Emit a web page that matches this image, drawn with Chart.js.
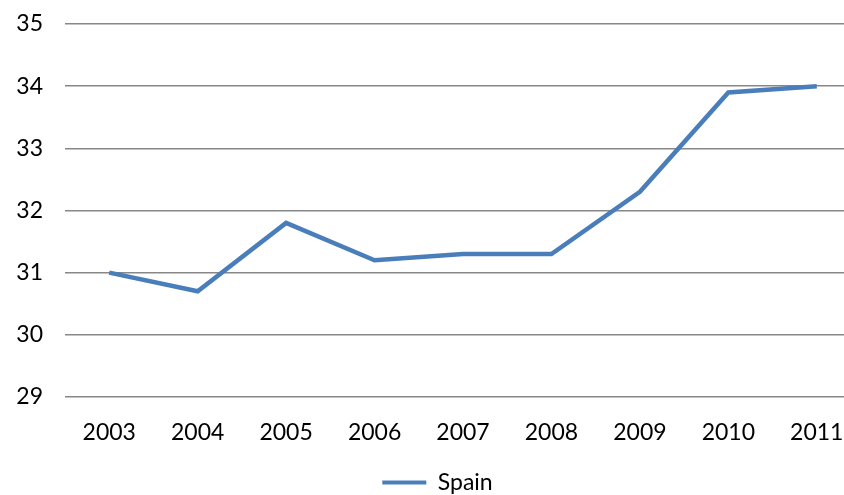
<!DOCTYPE html>
<html>
<head>
<meta charset="utf-8">
<script src="https://cdn.jsdelivr.net/npm/chart.js@4.4.1/dist/chart.umd.min.js"></script>
<style>
    html, body { margin: 0; padding: 0; background: #fff; overflow: hidden; }
    #wrap { position: relative; width: 861px; height: 495px; }
</style>
</head>
<body>
<div id="wrap"><canvas id="chart"></canvas></div>
<script>
// Dane wykresu
const years = ['2003', '2004', '2005', '2006', '2007', '2008', '2009', '2010', '2011'];
const spainValues = [31.0, 30.7, 31.8, 31.2, 31.3, 31.3, 32.3, 33.9, 34.0];
const seriesName = 'Spain';
const yMin = 29;
const yMax = 35;

const blue = '#4a7ebb';
const fontFamily = 'Lato, "Open Sans", sans-serif';

const ctx = document.getElementById('chart').getContext('2d');
new Chart(ctx, {
    type: 'line',
    data: {
        labels: years,
        datasets: [{
            label: seriesName,
            data: spainValues,
            borderColor: blue,
            backgroundColor: blue,
            borderWidth: 4.5,
            pointRadius: 0,
            tension: 0
        }]
    },
    options: {
        responsive: true,
        maintainAspectRatio: false,
        animation: false,
        layout: { padding: { top: 24, left: 14, right: 0, bottom: -9 } },
        plugins: {
            tooltip: { enabled: false },
            legend: {
                position: 'bottom',
                labels: {
                    color: '#000',
                    font: { family: fontFamily, size: 23 },
                    boxWidth: 44,
                    boxHeight: 4,
                    padding: 0,
                    generateLabels(chart) {
                        return Chart.defaults.plugins.legend.labels.generateLabels(chart).map(l => {
                            l.lineWidth = 0;
                            return l;
                        });
                    }
                }
            }
        },
        scales: {
            x: {
                offset: true,
                grid: { display: false },
                border: { display: false },
                afterFit(scale) {
                    scale.height = 74;
                    scale.paddingLeft = 0;
                    scale.paddingRight = 0;
                },
                ticks: {
                    color: '#000',
                    font: { family: fontFamily, size: 23 },
                    padding: 14,
                    maxRotation: 0
                }
            },
            y: {
                min: yMin,
                max: yMax,
                grid: { color: '#878787', lineWidth: 1.5, drawTicks: false },
                border: { display: false },
                afterFit(scale) {
                    scale.width = 51;
                    scale.paddingTop = 0;
                    scale.paddingBottom = 0;
                },
                ticks: {
                    stepSize: 1,
                    color: '#000',
                    font: { family: fontFamily, size: 23 },
                    padding: 22
                }
            }
        }
    }
});
</script>
</body>
</html>
